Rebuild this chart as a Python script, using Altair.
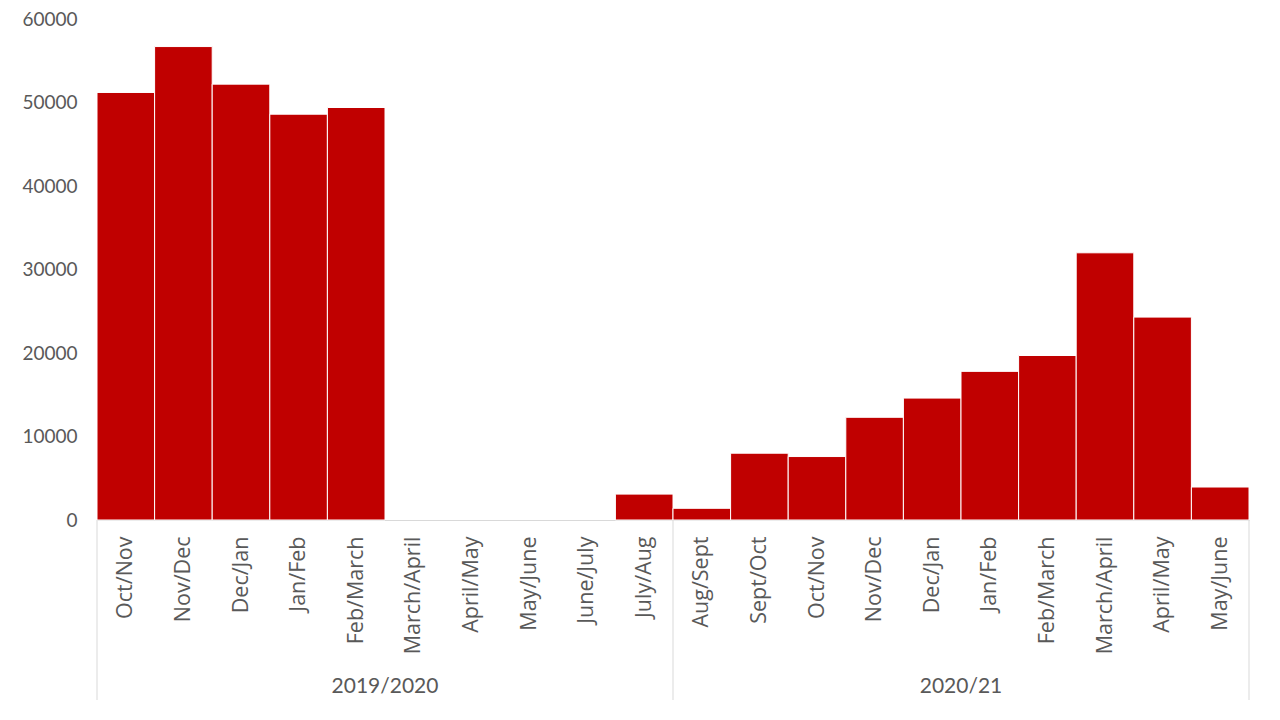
import json
import altair as alt
import pandas as pd

periods = ["Oct/Nov", "Nov/Dec", "Dec/Jan", "Jan/Feb", "Feb/March", "March/April",
           "April/May", "May/June", "June/July", "July/Aug",
           "Aug/Sept", "Sept/Oct", "Oct/Nov", "Nov/Dec", "Dec/Jan", "Jan/Feb",
           "Feb/March", "March/April", "April/May", "May/June"]
values = [51200, 56700, 52200, 48600, 49400, 0, 0, 0, 0, 3100,
          1400, 8000, 7600, 12300, 14600, 17800, 19700, 32000, 24300, 3950]
groups = ["2019/2020", "2020/21"]
group_sizes = [10, 10]
y_ticks = [0, 10000, 20000, 30000, 40000, 50000, 60000]

df = pd.DataFrame({
    "i": list(range(len(periods))),
    "i2": [k + 1 for k in range(len(periods))],
    "period": periods,
    "value": values,
})

starts = [sum(group_sizes[:k]) for k in range(len(group_sizes))]
gdf = pd.DataFrame({
    "group": groups,
    "mid": [s + n / 2 for s, n in zip(starts, group_sizes)],
})
bdf = pd.DataFrame({"b": starts + [sum(group_sizes)]})

W, H = 1152, 501
TEXT = "#595959"
LINE = "#d9d9d9"

xscale = alt.Scale(domain=[0, len(periods)], nice=False, zero=False)
label_expr = json.dumps(periods) + "[floor(datum.value)]"

bars = alt.Chart(df).transform_filter("datum.value > 0").mark_bar(
    color="#C00000", stroke="white", strokeWidth=1).encode(
    x=alt.X("i:Q", scale=xscale,
            axis=alt.Axis(values=[k + 0.5 for k in range(len(periods))],
                          labelExpr=label_expr, labelAngle=-90, labelAlign="right",
                          labelBaseline="middle", labelPadding=16, labelFont="Open Sans",
                          labelFontSize=21.5, labelColor=TEXT, ticks=False, grid=False,
                          domainColor=LINE, domainWidth=1, title=None)),
    x2="i2:Q",
    y=alt.Y("value:Q", scale=alt.Scale(domain=[0, 60000], nice=False),
            axis=alt.Axis(values=y_ticks, format="d", grid=False, domain=False, ticks=False,
                          labelFont="Lato", labelFontSize=19, labelColor=TEXT,
                          labelPadding=20, title=None)),
    y2=alt.datum(0),
)

seps = alt.Chart(bdf).mark_rule(color=LINE, strokeWidth=1).encode(
    x=alt.X("b:Q", scale=xscale),
    y=alt.value(H),
    y2=alt.value(H + 180),
)

glabels = alt.Chart(gdf).mark_text(font="Lato", fontSize=21, color=TEXT, baseline="middle").encode(
    x=alt.X("mid:Q", scale=xscale),
    y=alt.value(H + 167),
    text="group:N",
)

chart = alt.layer(bars, seps, glabels).properties(
    width=W, height=H,
    autosize=alt.AutoSizeParams(type="none"),
    padding={"left": 89, "top": 11, "right": 23, "bottom": 193},
).configure_view(stroke=None)

chart.save("out.html", embed_options={"renderer": "svg", "actions": False})
